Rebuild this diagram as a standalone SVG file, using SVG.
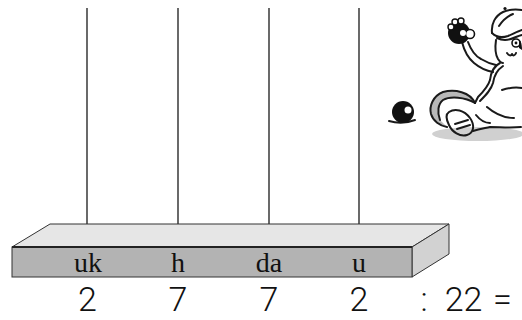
<svg xmlns="http://www.w3.org/2000/svg" width="522" height="320" viewBox="0 0 522 320">
<style>
.rod{stroke:#1a1a1a;stroke-width:1.3;fill:none}
.edge{stroke:#333;stroke-width:1}
.lbl{font-family:"Liberation Serif","Times New Roman",serif;font-size:28px;fill:#111;text-anchor:middle}
.dig{font-family:Roboto,"Liberation Sans",Arial,sans-serif;font-weight:300;font-size:34px;fill:#111;text-anchor:middle}
.ink{stroke:#1a1a1a;stroke-width:2;fill:none;stroke-linecap:round;stroke-linejoin:round}
</style>
<rect width="522" height="320" fill="#fff"/>
<g id="connectors">
<line class="rod" x1="87" y1="8" x2="87" y2="235"/>
<line class="rod" x1="178" y1="8" x2="178" y2="235"/>
<line class="rod" x1="269" y1="8" x2="269" y2="235"/>
<line class="rod" x1="359" y1="8" x2="359" y2="235"/>
</g>
<g id="bar">
<polygon class="edge" points="12,247 50,224 449,224 412,247" fill="#e6e6e6"/>
<polygon class="edge" points="412,247 449,224 449,254 412,277" fill="#d2d2d2"/>
<rect class="edge" x="12" y="247" width="400" height="30" fill="#b3b3b3"/>
<line x1="12" y1="247" x2="412" y2="247" stroke="#222" stroke-width="1.8"/>
</g>
<g id="labels">
<text class="lbl" x="88" y="272">uk</text>
<text class="lbl" x="178" y="272">h</text>
<text class="lbl" x="269" y="272">da</text>
<text class="lbl" x="359" y="272">u</text>
</g>
<g id="digits">
<text class="dig" x="87.5" y="311">2</text>
<text class="dig" x="178" y="311">7</text>
<text class="dig" x="269" y="311">7</text>
<text class="dig" x="359" y="311">2</text>
<text class="dig" x="424" y="311">:</text>
<text class="dig" x="463.5" y="311">22</text>
<text class="dig" x="502.5" y="311">=</text>
</g>
<g id="cartoon">
<ellipse cx="478" cy="134" rx="46" ry="7" fill="#d0d0d0"/>
<path class="ink" d="M389,121 Q402,125 415,120" stroke-width="1.5"/>
<circle cx="403" cy="112" r="11" fill="#111"/>
<circle cx="408" cy="110" r="3.5" fill="#fff"/>
<path d="M475,103 C470,92 455,89 443,92 C433,96 429,106 431,114 C433,121 440,126 447,127 L440,120 C437,112 438,104 443,100 C450,96 465,97 475,103 Z" fill="#b8b8b8"/>
<path class="ink" d="M475,103 C470,92 455,89 443,92 C433,96 429,106 431,114 C433,121 440,126 447,127"/>
<path class="ink" d="M475,103 C465,97 450,96 443,100 C438,104 437,112 440,120" stroke-width="1.6"/>
<path d="M500,63 C494,66 491,72 490,80 C488,87 484,91 480,95 L475,103 L478,98 C483,92 487,88 489,82 C491,74 495,68 500,63 Z" fill="#b8b8b8"/>
<path class="ink" d="M500,63 C494,66 491,72 490,80 C488,87 483,92 478,97 L475,103"/>
<path class="ink" d="M503,66 C497,70 494,76 493,83 C491,90 486,95 480,101" stroke-width="1.4"/>
<path class="ink" d="M449,112 C455,108 464,110 470,118 C475,125 474,133 467,135 C460,137 452,132 449,125 C446,119 446,114 449,112 Z" fill="#fff"/>
<path class="ink" d="M455,124 L468,120 M457,129 L470,125" stroke-width="1.5"/>
<path class="ink" d="M473,131 C480,129 486,128 490,127 C500,127 510,128 521,127"/>
<path class="ink" d="M476,115 C480,120 485,123 490,123"/>
<path class="ink" d="M487,107 C494,113 504,118 514,118"/>
<path class="ink" d="M502,90 C508,88 515,87 522,88"/>
<path class="ink" d="M462,42 C464,50 468,58 474,63 C480,68 487,71 493,72"/>
<path class="ink" d="M468,42 C471,50 475,56 481,59 C486,62 491,64 496,65"/>
<circle cx="459" cy="33" r="11" fill="#111"/>
<circle cx="470" cy="34" r="4.5" fill="#fff" stroke="#111" stroke-width="1.6"/>
<circle cx="463" cy="33" r="3" fill="#fff"/>
<circle cx="451" cy="27" r="3" fill="#fff" stroke="#111" stroke-width="1.4"/>
<circle cx="455" cy="22" r="3" fill="#fff" stroke="#111" stroke-width="1.4"/>
<circle cx="461" cy="21" r="3" fill="#fff" stroke="#111" stroke-width="1.4"/>
<path class="ink" d="M492,33 C491,24 495,16 503,12 C510,9 516,9 522,10"/>
<circle cx="505" cy="8.5" r="1.6" fill="#111"/>
<path class="ink" d="M499,26 C503,20 508,16 513,14" stroke-width="1.5"/>
<path class="ink" d="M492,33 C496,37 502,38 508,36 C513,34 518,31 522,30"/>
<path class="ink" d="M497,38 C503,41 510,40 516,37 C519,36 521,35 522,35" stroke-width="1.5"/>
<path class="ink" d="M496,40 C495,47 495,54 498,59 C500,62 502,63 503,63"/>
<circle cx="516" cy="43" r="4" fill="#fff" stroke="#111" stroke-width="1.6"/>
<circle cx="516" cy="43" r="1.4" fill="#111"/>
<path d="M519,40 C522,40 522,50 522,50 L519,48 Z" fill="#111"/>
<path class="ink" d="M507,53 C509,56 511,56 512,54 C513,56 515,56 516,53" stroke-width="1.5"/>
</g>
</svg>
